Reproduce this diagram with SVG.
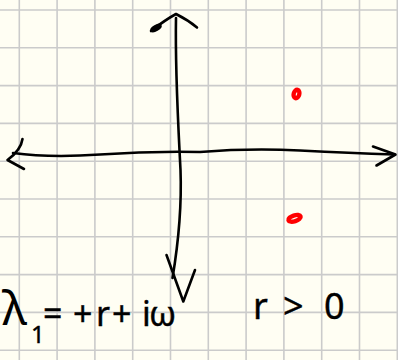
<svg xmlns="http://www.w3.org/2000/svg" width="398" height="360" viewBox="0 0 398 360">
<style>
.grid{stroke:#cbcbcb;stroke-width:1.6;fill:none}
.ink{stroke:#000;stroke-width:2.6;fill:none;stroke-linecap:round;stroke-linejoin:round}
.dot{stroke:#ff0000;fill:none;stroke-width:4.4}
.hand{font-family:"Noto Sans","DejaVu Sans",sans-serif;fill:#000;stroke:#000;stroke-width:0.4}
</style>
<rect width="398" height="360" fill="#fffef3"/>
<g id="grid" class="grid">
<path d="M19.3 0V360M57.1 0V360M94.9 0V360M132.7 0V360M170.5 0V360M208.3 0V360M246.1 0V360M283.9 0V360M321.7 0V360M359.5 0V360M397.3 0V360"/>
<path d="M0 10H398M0 47.8H398M0 85.6H398M0 123.4H398M0 161.2H398M0 199H398M0 236.8H398M0 274.6H398M0 312.4H398M0 350.2H398"/>
</g>
<g id="axes" class="ink">
<path id="x-axis" d="M13 153 Q50 158 100 154.5 T200 152 Q250 148 300 150.5 T394 154.5"/>
<path id="x-arrow-left" d="M22.5 139 Q21 150 7.5 160 L24 169"/>
<path id="x-arrow-right" d="M373 146.5 L395.5 154.5 L376.5 165.5"/>
<path id="y-axis" d="M176 18 C175 70 178 120 180.5 170 C182 210 178 245 172.5 278"/>
<path id="y-arrow-top" d="M151 31 Q165 20 176 14 Q188 20 197 27.5"/>
<ellipse cx="156" cy="28" rx="5" ry="2" transform="rotate(-30 156 28)" fill="#000"/>
<path id="y-arrow-bottom" d="M166.5 255 L183.3 301.5 L195 270"/>
</g>
<g id="points">
<ellipse id="p-upper" class="dot" cx="296.5" cy="94" rx="2.8" ry="4.3" transform="rotate(15 296.5 94)"/>
<ellipse id="p-lower" class="dot" cx="294.5" cy="218.3" rx="6.4" ry="2.9" transform="rotate(-18 294.5 218.3)"/>
</g>
<g id="labels">
<text class="hand"><tspan x="2" y="325" font-size="48" stroke-width="0">λ</tspan><tspan x="31" y="343" font-size="24">1</tspan><tspan x="43 68 73 96 112 142 149" y="326" font-size="34">= +r+iω</tspan></text>
<text class="hand" font-size="36"><tspan x="253 283 324" y="319">r&gt;0</tspan></text>
</g>
</svg>
